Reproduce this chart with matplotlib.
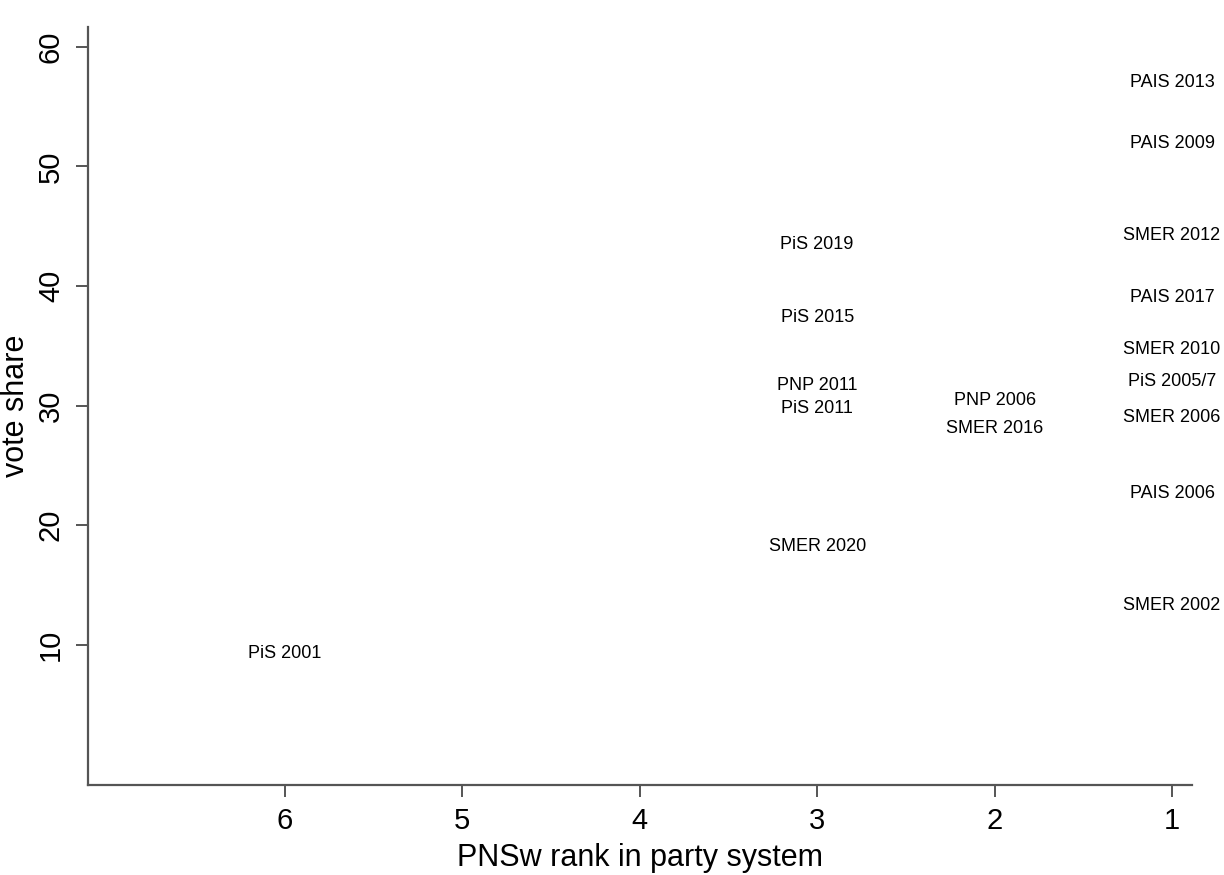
import matplotlib
matplotlib.use("Agg")
import matplotlib.pyplot as plt

# --- data -----------------------------------------------------------------
LABELS = [
    "PAIS 2013", "PAIS 2009", "SMER 2012", "PAIS 2017", "SMER 2010",
    "PiS 2005/7", "SMER 2006", "PAIS 2006", "SMER 2002",
    "PiS 2019", "PiS 2015", "PNP 2011", "PiS 2011", "SMER 2020",
    "PNP 2006", "SMER 2016",
    "PiS 2001",
]
RANK = [1, 1, 1, 1, 1,
        1, 1, 1, 1,
        3, 3, 3, 3, 3,
        2, 2,
        6]
VOTE_SHARE = [57.0, 51.9, 44.2, 39.0, 34.7,
              32.0, 29.0, 22.7, 13.3,
              43.5, 37.4, 31.7, 29.8, 18.2,
              30.4, 28.1,
              9.3]

X_TICKS = [6, 5, 4, 3, 2, 1]
Y_TICKS = [10, 20, 30, 40, 50, 60]

plt.rcParams["font.family"] = ["Liberation Sans", "DejaVu Sans"]
AXIS_COLOR = "#555555"

fig = plt.figure(figsize=(12.24, 8.75), dpi=100)
ax = fig.add_axes([0.0719, 0.1029, 0.902, 0.8663])

# labels only, no markers (Stata-style mlabel scatter)
ax.scatter(RANK, VOTE_SHARE, s=0, alpha=0)
for x, y, lab in zip(RANK, VOTE_SHARE, LABELS):
    ax.text(x, y, lab, ha="center", va="center", fontsize=13, color="black")

ax.set_xlim(7.11, 0.887)
ax.set_ylim(-1.7, 61.65)
ax.set_xticks(X_TICKS)
ax.set_yticks(Y_TICKS)
ax.set_xticklabels([str(v) for v in X_TICKS])
ax.set_yticklabels([str(v) for v in Y_TICKS], rotation=90, va="center")

ax.tick_params(axis="both", direction="out", length=8.6, width=1.4,
               color=AXIS_COLOR, labelsize=21, labelcolor="black")
ax.tick_params(axis="x", pad=7)
ax.tick_params(axis="y", pad=8)

for side in ("top", "right"):
    ax.spines[side].set_visible(False)
for side in ("left", "bottom"):
    ax.spines[side].set_color(AXIS_COLOR)
    ax.spines[side].set_linewidth(1.6)

ax.set_xlabel("PNSw rank in party system", fontsize=22, labelpad=6)
ax.set_ylabel("vote share", fontsize=22, labelpad=4)

fig.savefig("out.png", dpi=100, facecolor="white")
